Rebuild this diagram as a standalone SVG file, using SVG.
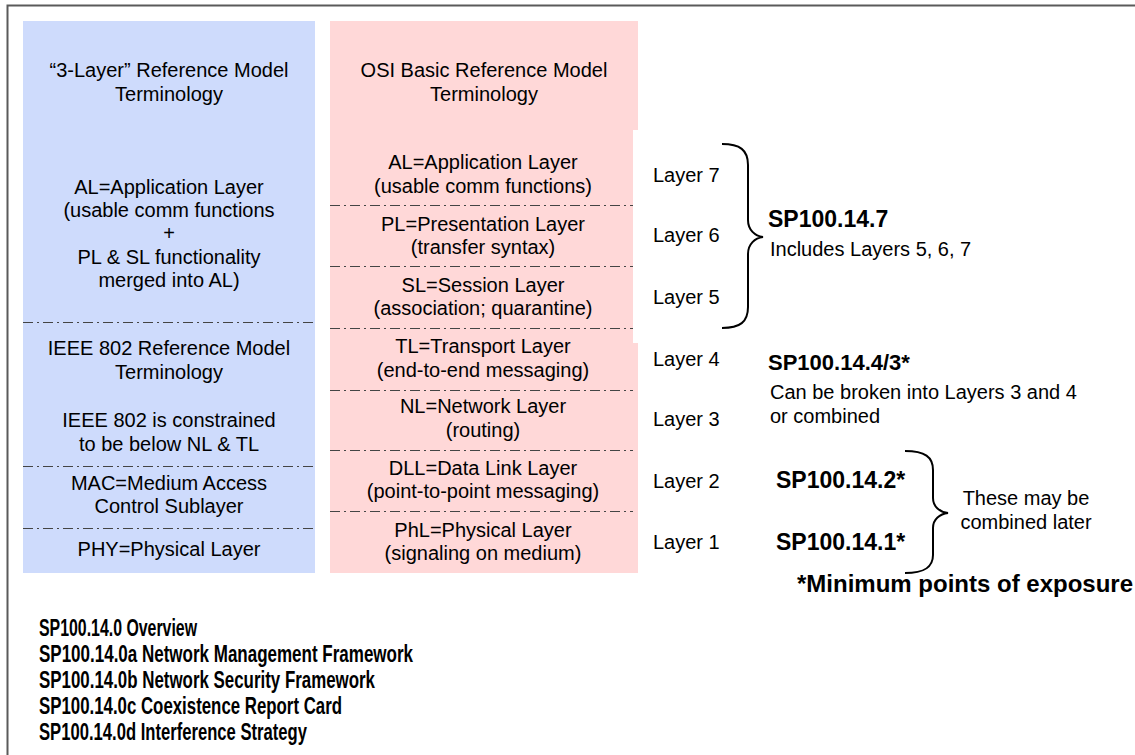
<svg xmlns="http://www.w3.org/2000/svg" width="1135" height="755" viewBox="0 0 1135 755">
  <style>
    text { font-family: "Liberation Sans", Arial, sans-serif; fill: #000; }
    .t { font-size: 20px; }
    .c { text-anchor: middle; }
    .b { font-weight: bold; }
    .sp { font-size: 23px; font-weight: bold; }
    .list { font-size: 23px; font-weight: bold; }
    .div { stroke: #444; stroke-width: 1; stroke-dasharray: 10 4 2 4; fill: none; }
    .brace { stroke: #000; stroke-width: 2; fill: none; }
    .frame { stroke: #5a5a5a; stroke-width: 2; fill: none; }
  </style>

  <rect x="0" y="0" width="1135" height="755" fill="#fff"/>

  <!-- outer frame (top and left edges) -->
  <path class="frame" d="M7.5,755 L7.5,5.5 L1135,5.5"/>

  <!-- "3-Layer" / IEEE 802 column -->
  <g id="three-layer-column">
    <rect x="23" y="21" width="292" height="552" fill="#cedbfc"/>
    <text class="t c" x="169" y="77">“3-Layer” Reference Model</text>
    <text class="t c" x="169" y="101">Terminology</text>
    <text class="t c" x="169" y="194">AL=Application Layer</text>
    <text class="t c" x="169" y="217">(usable comm functions</text>
    <text class="t c" x="169" y="240">+</text>
    <text class="t c" x="169" y="264">PL &amp; SL functionality</text>
    <text class="t c" x="169" y="287">merged into AL)</text>
    <line class="div" x1="23" y1="322.5" x2="315" y2="322.5"/>
    <text class="t c" x="169" y="355">IEEE 802 Reference Model</text>
    <text class="t c" x="169" y="379">Terminology</text>
    <text class="t c" x="169" y="427">IEEE 802 is constrained</text>
    <text class="t c" x="169" y="451">to be below NL &amp; TL</text>
    <line class="div" x1="23" y1="466.5" x2="315" y2="466.5"/>
    <text class="t c" x="169" y="490">MAC=Medium Access</text>
    <text class="t c" x="169" y="513">Control Sublayer</text>
    <line class="div" x1="23" y1="528.5" x2="315" y2="528.5"/>
    <text class="t c" x="169" y="556">PHY=Physical Layer</text>
  </g>

  <!-- OSI column -->
  <g id="osi-column">
    <rect x="330" y="21" width="308" height="552" fill="#ffd8d8"/>
    <rect x="633" y="130" width="6" height="213" fill="#fff"/>
    <text class="t c" x="484" y="77">OSI Basic Reference Model</text>
    <text class="t c" x="484" y="101">Terminology</text>
    <text class="t c" x="483" y="169">AL=Application Layer</text>
    <text class="t c" x="483" y="193">(usable comm functions)</text>
    <line class="div" x1="330" y1="205.5" x2="633" y2="205.5"/>
    <text class="t c" x="483" y="231">PL=Presentation Layer</text>
    <text class="t c" x="483" y="254">(transfer syntax)</text>
    <line class="div" x1="330" y1="266.5" x2="633" y2="266.5"/>
    <text class="t c" x="483" y="292">SL=Session Layer</text>
    <text class="t c" x="483" y="315">(association; quarantine)</text>
    <line class="div" x1="330" y1="328.5" x2="633" y2="328.5"/>
    <text class="t c" x="483" y="353">TL=Transport Layer</text>
    <text class="t c" x="483" y="377">(end-to-end messaging)</text>
    <line class="div" x1="330" y1="390.5" x2="633" y2="390.5"/>
    <text class="t c" x="483" y="413">NL=Network Layer</text>
    <text class="t c" x="483" y="437">(routing)</text>
    <line class="div" x1="330" y1="450.5" x2="633" y2="450.5"/>
    <text class="t c" x="483" y="475">DLL=Data Link Layer</text>
    <text class="t c" x="483" y="498">(point-to-point messaging)</text>
    <line class="div" x1="330" y1="511.5" x2="633" y2="511.5"/>
    <text class="t c" x="483" y="537">PhL=Physical Layer</text>
    <text class="t c" x="483" y="560">(signaling on medium)</text>
  </g>

  <!-- layer numbers -->
  <g id="layer-numbers">
    <text class="t" x="653" y="182">Layer 7</text>
    <text class="t" x="653" y="242">Layer 6</text>
    <text class="t" x="653" y="304">Layer 5</text>
    <text class="t" x="653" y="366">Layer 4</text>
    <text class="t" x="653" y="426">Layer 3</text>
    <text class="t" x="653" y="488">Layer 2</text>
    <text class="t" x="653" y="549">Layer 1</text>
  </g>

  <!-- grouping braces -->
  <g id="connectors">
    <path class="brace" d="M722,144 C740,144 748,150 748,165 L748,220 C748,230 755,236 763,237 C755,238 748,244 748,254 L748,307 C748,322 740,328 722,328"/>
    <path class="brace" d="M905,451 C925,451 933,457 933,470 L933,498 C933,507 940,512 948,513 C940,514 933,519 933,528 L933,555 C933,567 925,573 905,573"/>
  </g>

  <g id="sp100-14-7">
    <text class="sp" x="768" y="227">SP100.14.7</text>
    <text class="t" x="770" y="256">Includes Layers 5, 6, 7</text>
  </g>

  <g id="sp100-14-4-3">
    <text class="sp" x="768" y="370" style="font-size:22px">SP100.14.4/3*</text>
    <text class="t" x="770" y="399">Can be broken into Layers 3 and 4</text>
    <text class="t" x="770" y="423">or combined</text>
  </g>

  <g id="sp100-14-2">
    <text class="sp" x="776" y="488">SP100.14.2*</text>
  </g>
  <g id="sp100-14-1">
    <text class="sp" x="776" y="550">SP100.14.1*</text>
  </g>

  <g id="combined-note">
    <text class="t c" x="1026" y="505">These may be</text>
    <text class="t c" x="1026" y="529">combined later</text>
  </g>

  <g id="exposure-note">
    <text class="b" x="797" y="592" style="font-size:24px">*Minimum points of exposure</text>
  </g>

  <!-- overview document list -->
  <g id="document-list">
    <text class="list" x="39" y="636" textLength="158" lengthAdjust="spacingAndGlyphs">SP100.14.0 Overview</text>
    <text class="list" x="39" y="662" textLength="374" lengthAdjust="spacingAndGlyphs">SP100.14.0a Network Management Framework</text>
    <text class="list" x="39" y="688" textLength="336" lengthAdjust="spacingAndGlyphs">SP100.14.0b Network Security Framework</text>
    <text class="list" x="39" y="714" textLength="303" lengthAdjust="spacingAndGlyphs">SP100.14.0c Coexistence Report Card</text>
    <text class="list" x="39" y="740" textLength="268" lengthAdjust="spacingAndGlyphs">SP100.14.0d Interference Strategy</text>
  </g>
</svg>
